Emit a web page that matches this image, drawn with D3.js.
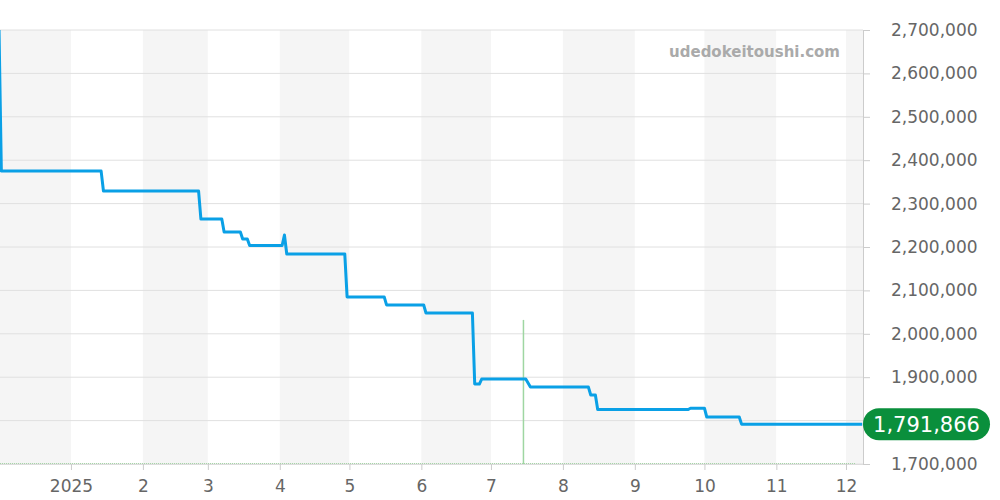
<!DOCTYPE html>
<html>
<head>
<meta charset="utf-8">
<script src="https://cdn.jsdelivr.net/npm/d3@7"></script>
<style>
  body { margin: 0; background: #fff; }
  svg { display: block; font-family: 'DejaVu Sans', sans-serif; }
</style>
</head>
<body>
<svg width="1000" height="500"></svg>
<script>
// price history (date, yen)
const priceDates = [
    '2024-12-01', '2024-12-02', '2025-01-14', '2025-01-15', '2025-02-25', '2025-02-26',
    '2025-03-07', '2025-03-08', '2025-03-15', '2025-03-16', '2025-03-18', '2025-03-19',
    '2025-04-02', '2025-04-03', '2025-04-04', '2025-04-29', '2025-04-30', '2025-05-16',
    '2025-05-17', '2025-06-02', '2025-06-03', '2025-06-23', '2025-06-24', '2025-06-26',
    '2025-06-27', '2025-07-16', '2025-07-18', '2025-08-12', '2025-08-13', '2025-08-15',
    '2025-08-16', '2025-09-24', '2025-09-25', '2025-10-01', '2025-10-02', '2025-10-16',
    '2025-10-17', '2025-12-08'
]
const priceValues = [
    2700000, 2375000, 2375000, 2329000, 2329000, 2264500,
    2264500, 2234600, 2234600, 2218500, 2218500, 2203500,
    2203500, 2227700, 2184000, 2184000, 2085000, 2085000,
    2066500, 2066500, 2048000, 2048000, 1884300, 1884300,
    1895800, 1895800, 1877300, 1877300, 1859000, 1859000,
    1825500, 1825500, 1828500, 1828500, 1808300, 1808300,
    1791866, 1791866
]
// single marker bar (date, top value)
const markerDates = ['2025-07-15']
const markerValues = [2032000]

const yTicks = [1700000, 1800000, 1900000, 2000000, 2100000, 2200000, 2300000, 2400000, 2500000, 2600000, 2700000]
const lastPrice = 1791866
const siteName = 'udedokeitoushi.com'

const parse = d3.timeParse('%Y-%m-%d')
const data = priceDates.map((d, i) => ({ date: parse(d), value: priceValues[i] }))

const svg = d3.select('svg')
const plotW = 863
const plotTop = 30, plotBottom = 464

const x = d3.scaleTime()
    .domain([new Date(2024, 11, 1, 10), new Date(2025, 11, 8, 8)])
    .range([0, plotW])
const y = d3.scaleLinear().domain([1700000, 2700000]).range([plotBottom, plotTop])

// alternating month bands
const months = d3.timeMonth.range(new Date(2024, 11, 1), new Date(2026, 0, 1))
svg.append('g').selectAll('rect').data(months).enter().append('rect')
    .attr('x', d => Math.max(0, x(d)))
    .attr('y', plotTop)
    .attr('width', d => Math.min(plotW, x(d3.timeMonth.offset(d, 1))) - Math.max(0, x(d)))
    .attr('height', plotBottom - plotTop)
    .attr('fill', (d, i) => i % 2 === 0 ? '#f5f5f5' : '#fff')

// horizontal grid
svg.append('g').selectAll('line').data(yTicks).enter().append('line')
    .attr('x1', 0).attr('x2', plotW)
    .attr('y1', d => y(d)).attr('y2', d => y(d))
    .attr('stroke', '#e0e0e0')

// watermark
svg.append('text')
    .attr('x', 840).attr('y', 57)
    .attr('text-anchor', 'end')
    .attr('font-size', 15).attr('font-weight', 'bold')
    .attr('fill', '#aaa')
    .text(siteName)

// right axis (the badge sits where the 1,800,000 label would be)
const yAxis = svg.append('g')
    .attr('transform', `translate(${plotW},0)`)
    .call(d3.axisRight(y).tickValues(yTicks).tickSize(7).tickPadding(21)
        .tickFormat(d => d === 1800000 ? '' : d3.format(',')(d)))
yAxis.select('.domain').attr('stroke', '#ccc')
yAxis.selectAll('.tick line').attr('stroke', '#ccc')
yAxis.selectAll('text').attr('fill', '#666').attr('font-size', 17).attr('font-family', 'DejaVu Sans')

// bottom axis
const monthTicks = d3.timeMonth.range(new Date(2025, 0, 1), new Date(2025, 11, 2))
const xAxis = svg.append('g')
    .attr('transform', `translate(0,${plotBottom})`)
    .call(d3.axisBottom(x).tickValues(monthTicks).tickSize(6).tickPadding(10)
        .tickFormat(d => d.getMonth() === 0 ? d.getFullYear() : d.getMonth() + 1))
xAxis.select('.domain').attr('stroke', '#ddd').attr('d', `M0,0.5H${plotW}`)
xAxis.selectAll('.tick line').attr('stroke', '#ccc')
xAxis.selectAll('text').attr('fill', '#666').attr('font-size', 17).attr('font-family', 'DejaVu Sans')

// volume baseline (dotted green)
svg.append('line')
    .attr('x1', 0).attr('x2', plotW - 8)
    .attr('y1', plotBottom - 0.5).attr('y2', plotBottom - 0.5)
    .attr('stroke', '#a5d6a7').attr('stroke-dasharray', '1,1')

// marker bar
svg.append('g').selectAll('line').data(markerDates).enter().append('line')
    .attr('x1', d => x(parse(d))).attr('x2', d => x(parse(d)))
    .attr('y1', plotBottom).attr('y2', (d, i) => y(markerValues[i]))
    .attr('stroke', '#9fd6a2').attr('stroke-width', 1.5)

// price line
svg.append('path')
    .datum(data)
    .attr('fill', 'none')
    .attr('stroke', '#0aa0e6')
    .attr('stroke-width', 3)
    .attr('stroke-linejoin', 'round')
    .attr('d', d3.line().x(d => x(d.date)).y(d => y(d.value)))

// last price badge
const badge = svg.append('g').attr('transform', `translate(${plotW},${y(lastPrice)})`)
badge.append('rect')
    .attr('x', 0).attr('y', -16).attr('width', 127).attr('height', 32)
    .attr('rx', 16).attr('fill', '#0a8f3c')
badge.append('text')
    .attr('x', 63.5).attr('dy', '0.36em')
    .attr('text-anchor', 'middle')
    .attr('font-size', 21).attr('fill', '#fff')
    .text(d3.format(',')(lastPrice))
</script>
</body>
</html>
